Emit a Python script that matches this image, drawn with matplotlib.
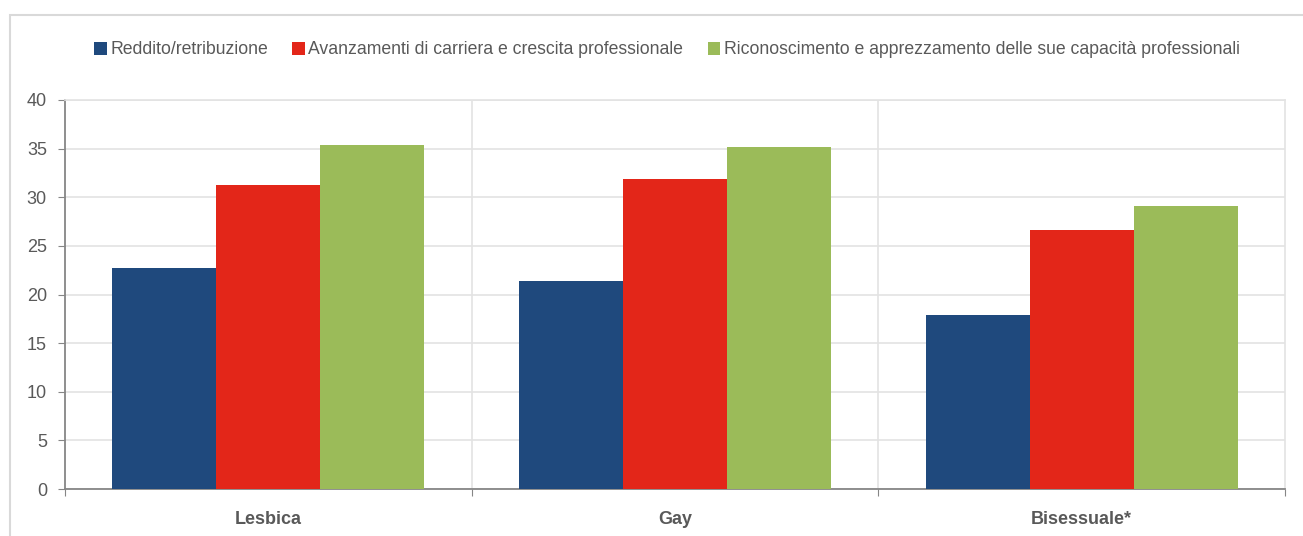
import matplotlib
matplotlib.use("Agg")
from matplotlib import pyplot as plt
from matplotlib.patches import Rectangle
import numpy as np

categories = ["Lesbica", "Gay", "Bisessuale*"]
series_names = ["Reddito/retribuzione",
                "Avanzamenti di carriera e crescita professionale",
                "Riconoscimento e apprezzamento delle sue capacità professionali"]
reddito = [22.7, 21.4, 17.9]
carriera = [31.3, 31.9, 26.6]
riconoscimento = [35.4, 35.2, 29.1]
colors = ["#1F497D", "#E32619", "#9BBB59"]

plt.rcParams['font.family'] = ['Liberation Sans', 'DejaVu Sans']

fig = plt.figure(figsize=(13.03, 5.36), dpi=100)
ax = fig.add_axes([65/1303, 1-489/536, (1285-65)/1303, (489-100)/536])

# outer frame
fig.patches.append(Rectangle((10/1303, -0.1), 1.2, 1-15/536+0.1, transform=fig.transFigure,
                             fill=False, edgecolor="#d9d9d9", linewidth=1.5))

x = np.arange(len(categories))
w = 0.256
for k, (vals, name) in enumerate(zip([reddito, carriera, riconoscimento], series_names)):
    ax.bar(x + (k-1)*w, vals, w, color=colors[k], label=name, zorder=3)

ax.set_xlim(-0.5, 2.5)
ax.set_ylim(0, 40)
ax.set_yticks(range(0, 41, 5))
ax.yaxis.grid(True, color="#e3e3e3", linewidth=1.2, zorder=0)
for b in [0.5, 1.5]:
    ax.axvline(b, color="#e3e3e3", linewidth=1.2, zorder=0)

ax.set_xticks([-0.5, 0.5, 1.5, 2.5])
ax.set_xticklabels([])
ax.set_xticks(x, minor=True)
ax.set_xticklabels(categories, minor=True, fontweight="bold", fontsize=13, color="#595959")
ax.tick_params(axis="x", which="minor", length=0, pad=16)
ax.tick_params(axis="x", which="major", length=5, color="#868686", direction="out")
ax.tick_params(axis="y", length=5, color="#868686", labelsize=13, labelcolor="#595959", pad=8)

for s in ["left", "bottom"]:
    ax.spines[s].set_color("#868686")
    ax.spines[s].set_linewidth(1.3)
for s in ["top", "right"]:
    ax.spines[s].set_color("#e3e3e3")
    ax.spines[s].set_linewidth(1.2)

fig.legend(loc="center", bbox_to_anchor=(667/1303, 1-50/536), ncol=3, frameon=False,
           fontsize=12.7, handlelength=0.7, handleheight=0.7, handletextpad=0.2,
           columnspacing=1.4, labelcolor="#595959")

fig.savefig("out.png", dpi=100)
